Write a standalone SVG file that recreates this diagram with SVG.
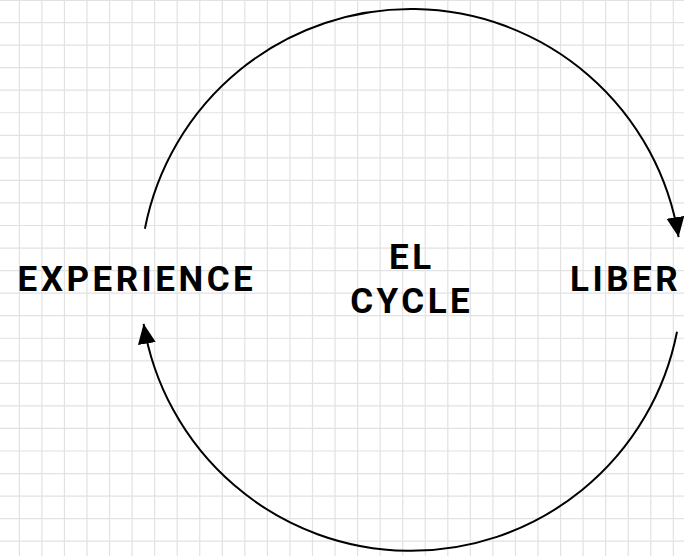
<svg xmlns="http://www.w3.org/2000/svg" width="684" height="556" viewBox="0 0 684 556">
<style>
.grid{stroke:#e2e2e2;stroke-width:1.2;fill:none}
.lbl{font-family:Roboto,"Liberation Sans",sans-serif;font-weight:700;font-size:35px;letter-spacing:3.5px;fill:#000}
.arc{fill:none;stroke:#000;stroke-width:2}
</style>
<defs>
<marker id="ah" markerUnits="userSpaceOnUse" markerWidth="22" markerHeight="22" viewBox="0 0 22 22" refX="20" refY="11" orient="auto">
<path d="M0,2 L20,11 L0,20 Z" fill="#000"/>
</marker>
</defs>
<rect width="684" height="556" fill="#fff"/>
<path class="grid" d="M19.35,0V556M41.9,0V556M64.45,0V556M87,0V556M109.55,0V556M132.1,0V556M154.65,0V556M177.2,0V556M199.75,0V556M222.3,0V556M244.85,0V556M267.4,0V556M289.95,0V556M312.5,0V556M335.05,0V556M357.6,0V556M380.15,0V556M402.7,0V556M425.25,0V556M447.8,0V556M470.35,0V556M492.9,0V556M515.45,0V556M538,0V556M560.55,0V556M583.1,0V556M605.65,0V556M628.2,0V556M650.75,0V556M673.3,0V556M0,0.5H684M0,22.55H684M0,45.1H684M0,67.65H684M0,90.2H684M0,112.75H684M0,135.3H684M0,157.85H684M0,180.4H684M0,202.95H684M0,225.5H684M0,248.05H684M0,270.6H684M0,293.15H684M0,315.7H684M0,338.25H684M0,360.8H684M0,383.35H684M0,405.9H684M0,428.45H684M0,451H684M0,473.55H684M0,496.1H684M0,518.65H684M0,541.2H684"/>
<g id="connectors">
<path class="arc" d="M144.9,228.8 A271,271 0 0 1 678.6,237.1" marker-end="url(#ah)"/>
<path class="arc" d="M677,331.7 A271,271 0 0 1 143.6,323.8" marker-end="url(#ah)"/>
</g>
<g id="experience"><text class="lbl" x="17.5" y="290.5">EXPERIENCE</text></g>
<g id="cycle"><text class="lbl" x="411.75" y="269" text-anchor="middle">EL</text><text class="lbl" x="411.75" y="312.5" text-anchor="middle">CYCLE</text></g>
<g id="liber"><text class="lbl" x="570" y="290.5">LIBER</text></g>
</svg>
